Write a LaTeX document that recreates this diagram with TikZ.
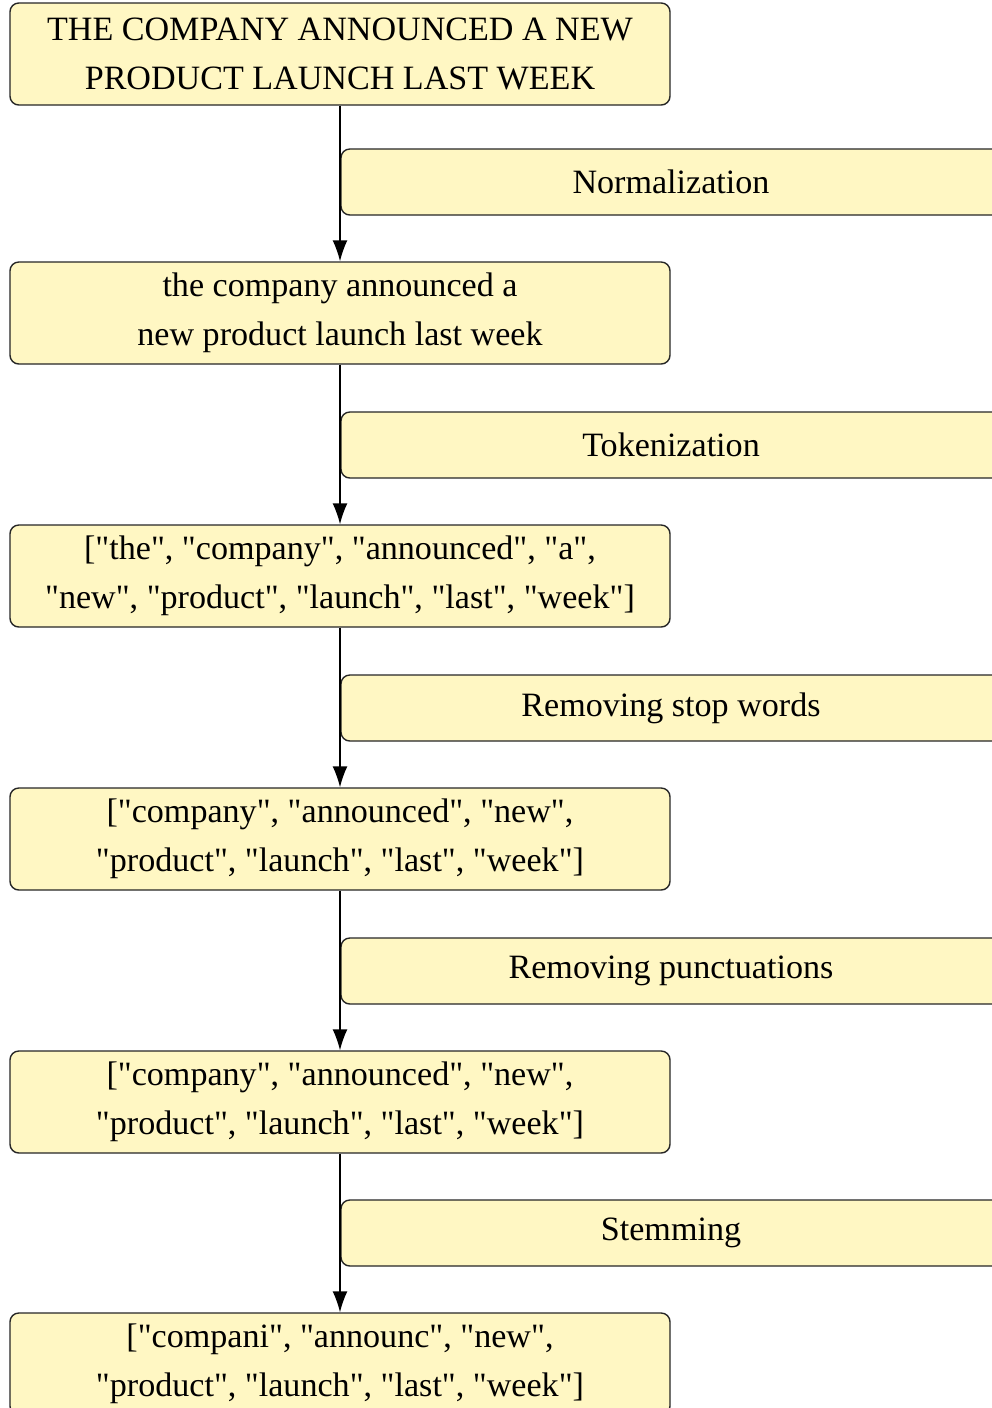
\documentclass[tikz,border=0pt]{standalone}
\usepackage{fontspec}
\setmainfont{Liberation Serif}[Ligatures=TeXOff]
\usetikzlibrary{arrows.meta}

\definecolor{notefill}{RGB}{255,247,195}

\tikzset{
    textbox/.style={rectangle, draw=black!85, fill=notefill, rounded corners=5pt, line width=0.8pt,
        minimum width=13.2cm, minimum height=2.04cm, align=center, font=\fontsize{19.4}{27.6}\selectfont},
    stepbox/.style={textbox, minimum height=1.32cm},
    flow/.style={line width=0.8pt, -{Latex[length=0.42cm, width=0.3cm]}}
}

\begin{document}
\begin{tikzpicture}
    \useasboundingbox (0,0) rectangle (19.84,-28.16);

    \node[textbox] (t0) at (6.8,-1.08) {THE COMPANY ANNOUNCED A NEW\\PRODUCT LAUNCH LAST WEEK};
    \node[textbox] (t1) at (6.8,-6.26) {the company announced a\\new product launch last week};
    \node[textbox] (t2) at (6.8,-11.52) {["the", "company", "announced", "a",\\"new", "product", "launch", "last", "week"]};
    \node[textbox] (t3) at (6.8,-16.78) {["company", "announced", "new",\\"product", "launch", "last", "week"]};
    \node[textbox] (t4) at (6.8,-22.04) {["company", "announced", "new",\\"product", "launch", "last", "week"]};
    \node[textbox] (t5) at (6.8,-27.28) {["compani", "announc", "new",\\"product", "launch", "last", "week"]};

    \node[stepbox] (s1) at (13.42,-3.64) {Normalization};
    \node[stepbox] (s2) at (13.42,-8.9) {Tokenization};
    \node[stepbox] (s3) at (13.42,-14.16) {Removing stop words};
    \node[stepbox] (s4) at (13.42,-19.42) {Removing punctuations};
    \node[stepbox] (s5) at (13.42,-24.66) {Stemming};

    \draw[flow] (t0) -- (t1);
    \draw[flow] (t1) -- (t2);
    \draw[flow] (t2) -- (t3);
    \draw[flow] (t3) -- (t4);
    \draw[flow] (t4) -- (t5);
\end{tikzpicture}
\end{document}
